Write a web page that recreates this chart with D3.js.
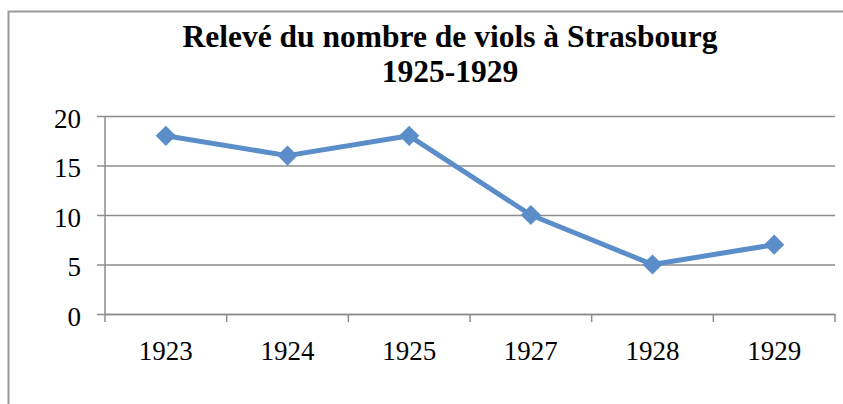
<!DOCTYPE html>
<html>
<head>
<meta charset="utf-8">
<script src="https://cdn.jsdelivr.net/npm/d3@7"></script>
<style>
  html, body { margin: 0; padding: 0; background: #fff; }
  text { font-family: "Liberation Serif", "DejaVu Serif", serif; }
</style>
</head>
<body>
<script>
// data
var years = ["1923", "1924", "1925", "1927", "1928", "1929"];
var counts = [18, 16, 18, 10, 5, 7];
var yTicks = [0, 5, 10, 15, 20];
var titleLines = ["Relevé du nombre de viols à Strasbourg", "1925-1929"];

var width = 843, height = 404;
var plotLeft = 105, plotRight = 835, plotTop = 116, plotBottom = 314;

var svg = d3.select("body").append("svg")
  .attr("width", width)
  .attr("height", height);

// outer chart frame (runs off the picture on the right and bottom)
svg.append("rect")
  .attr("x", 8.5).attr("y", 11.5)
  .attr("width", 900).attr("height", 500)
  .attr("fill", "none")
  .attr("stroke", "#9a9a9a")
  .attr("stroke-width", 2);

var x = d3.scaleBand().domain(years).range([plotLeft, plotRight]);
var y = d3.scaleLinear().domain([0, 20]).range([plotBottom, plotTop]);

// gridlines + y axis labels
var yAxis = d3.axisLeft(y).tickValues(yTicks).tickSize(-(plotRight - plotLeft)).tickPadding(24);
var gy = svg.append("g").attr("transform", "translate(" + plotLeft + ",0)").call(yAxis);
gy.select(".domain").remove();
gy.selectAll(".tick line")
  .attr("x1", -8)
  .attr("stroke", "#8c8c8c")
  .attr("stroke-width", 1.5);
gy.selectAll(".tick text")
  .attr("font-size", 27)
  .attr("fill", "#000")
  .attr("dy", "0.42em");

// x axis
var xAxis = d3.axisBottom(x).tickSize(0).tickPadding(27);
var gx = svg.append("g").attr("transform", "translate(0," + plotBottom + ")").call(xAxis);
gx.select(".domain")
  .attr("stroke", "#8c8c8c")
  .attr("stroke-width", 1.5);
gx.selectAll(".tick text")
  .attr("font-size", 27)
  .attr("fill", "#000");

// tick marks at the band boundaries
var bounds = years.map(function (d) { return x(d); }).concat([plotRight]);
gx.selectAll(".bound").data(bounds).enter().append("line")
  .attr("class", "bound")
  .attr("x1", function (d) { return d; })
  .attr("x2", function (d) { return d; })
  .attr("y1", 0).attr("y2", 8)
  .attr("stroke", "#8c8c8c")
  .attr("stroke-width", 1.5);

// y axis line
svg.append("line")
  .attr("x1", plotLeft).attr("x2", plotLeft)
  .attr("y1", plotTop).attr("y2", plotBottom)
  .attr("stroke", "#8c8c8c")
  .attr("stroke-width", 1.5);

var pts = years.map(function (d, i) { return [x(d) + x.bandwidth() / 2, y(counts[i])]; });

svg.append("path")
  .attr("d", d3.line()(pts))
  .attr("fill", "none")
  .attr("stroke", "#5b8ec9")
  .attr("stroke-width", 5)
  .attr("stroke-linejoin", "round");

svg.selectAll(".marker").data(pts).enter().append("path")
  .attr("class", "marker")
  .attr("transform", function (d) { return "translate(" + d[0] + "," + d[1] + ")"; })
  .attr("d", d3.symbol().type(d3.symbolDiamond2).size(260))
  .attr("fill", "#5b8ec9");

// title
svg.selectAll(".title").data(titleLines).enter().append("text")
  .attr("class", "title")
  .attr("x", 450)
  .attr("y", function (d, i) { return 47 + i * 35; })
  .attr("text-anchor", "middle")
  .attr("font-size", 31.5)
  .attr("font-weight", "bold")
  .attr("fill", "#000")
  .text(function (d) { return d; });
</script>
</body>
</html>
